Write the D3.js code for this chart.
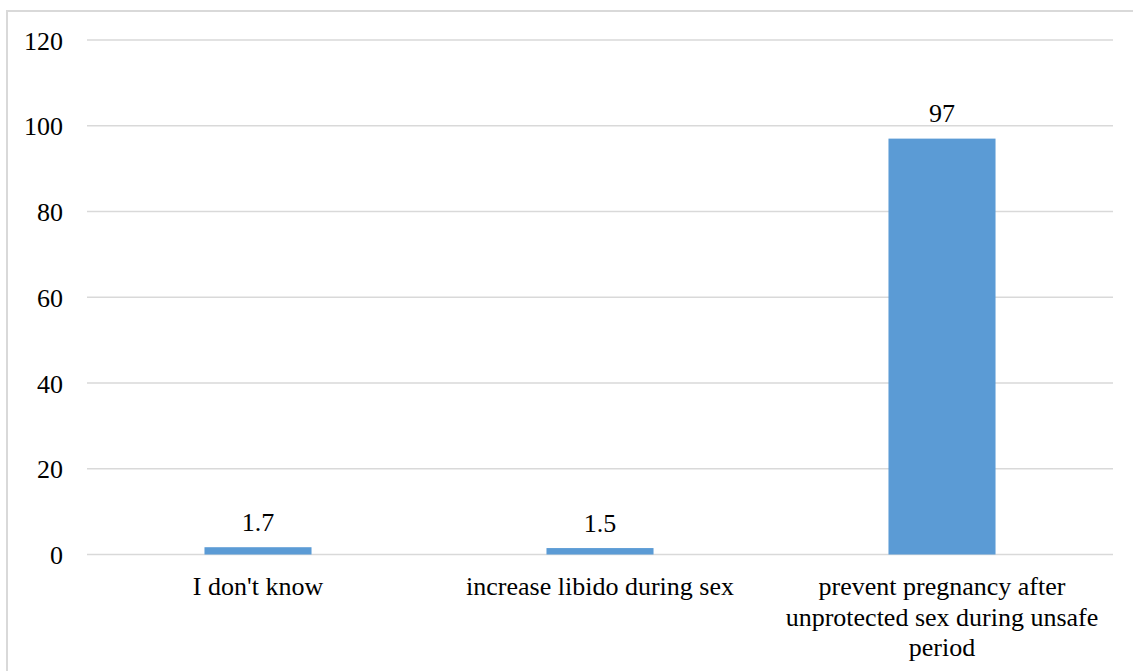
<!DOCTYPE html>
<html>
<head>
<meta charset="utf-8">
<script src="https://cdn.jsdelivr.net/npm/d3@7"></script>
<style>
  html, body { margin: 0; padding: 0; background: #fff; }
  svg { display: block; }
  text { font-family: "Liberation Serif", "Times New Roman", serif; fill: #000; }
</style>
</head>
<body>
<svg id="chart" width="1133" height="671"></svg>
<script>
// Reported uses of emergency contraception (%)
const categories = [
  ["I don't know"],
  ["increase libido during sex"],
  ["prevent pregnancy after", "unprotected sex during unsafe", "period"]
];
const values = [1.7, 1.5, 97];
const valueLabels = ["1.7", "1.5", "97"];
const yTicks = [0, 20, 40, 60, 80, 100, 120];

const W = 1133, H = 671;
const margin = { left: 87, right: 20, top: 40, bottom: 116.5 };
const fontSize = "26px";
const svg = d3.select("#chart");

// Outer chart frame (extends past the right and bottom edges)
svg.append("rect")
  .attr("x", 7).attr("y", 11)
  .attr("width", W + 20).attr("height", H + 20)
  .attr("fill", "none")
  .attr("stroke", "#d9d9d9")
  .attr("stroke-width", 2);

const x = d3.scaleBand()
  .domain(d3.range(categories.length))
  .range([margin.left, W - margin.right])
  .paddingInner(0.687)
  .paddingOuter(0.3435);

const band = d3.scaleBand()
  .domain(d3.range(categories.length))
  .range([margin.left, W - margin.right]);

const y = d3.scaleLinear()
  .domain([0, 120])
  .range([H - margin.bottom, margin.top]);

// Horizontal gridlines
svg.append("g")
  .selectAll("line")
  .data(yTicks)
  .join("line")
  .attr("x1", margin.left)
  .attr("x2", W - margin.right)
  .attr("y1", d => y(d))
  .attr("y2", d => y(d))
  .attr("stroke", "#d9d9d9")
  .attr("stroke-width", 1.5);

// Y tick labels
svg.append("g")
  .selectAll("text")
  .data(yTicks)
  .join("text")
  .attr("x", 63)
  .attr("y", d => y(d) + 9.5)
  .attr("text-anchor", "end")
  .style("font-size", fontSize)
  .text(d => d);

// Bars
svg.append("g")
  .selectAll("rect")
  .data(values)
  .join("rect")
  .attr("x", (d, i) => x(i))
  .attr("width", x.bandwidth())
  .attr("y", d => y(d))
  .attr("height", d => y(0) - y(d))
  .attr("fill", "#5b9bd5");

// Value labels above bars
svg.append("g")
  .selectAll("text")
  .data(values)
  .join("text")
  .attr("x", (d, i) => x(i) + x.bandwidth() / 2)
  .attr("y", d => y(d) - 16.5)
  .attr("text-anchor", "middle")
  .style("font-size", fontSize)
  .text((d, i) => valueLabels[i]);

// Category labels (wrapped lines)
const cat = svg.append("g")
  .selectAll("text")
  .data(categories)
  .join("text")
  .attr("x", (d, i) => band(i) + band.bandwidth() / 2)
  .attr("y", y(0) + 40.5)
  .attr("text-anchor", "middle")
  .style("font-size", fontSize);

cat.selectAll("tspan")
  .data(d => d)
  .join("tspan")
  .attr("x", function () { return d3.select(this.parentNode).attr("x"); })
  .attr("dy", (d, i) => i === 0 ? 0 : 30.5)
  .text(d => d);
</script>
</body>
</html>
